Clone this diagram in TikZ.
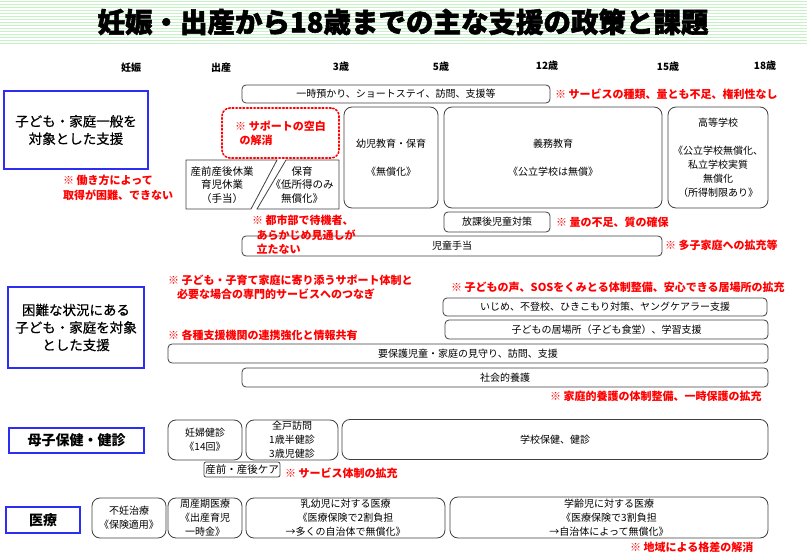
\documentclass[tikz,border=0pt]{standalone}
\usepackage{fontspec}
\setmainfont{Noto Sans CJK JP}
\newfontfamily\titlefont[FakeBold=2]{Noto Sans CJK JP}
\newfontfamily\labelfont[FakeBold=0.6]{Noto Sans CJK JP}
\usepackage{xcolor}
\definecolor{stripegreen}{HTML}{C6F3C6}
\definecolor{boxgray}{HTML}{404040}
\definecolor{groupblue}{HTML}{2E2EF2}
\definecolor{notered}{HTML}{FF0000}
\tikzset{
  box/.style={draw=boxgray, line width=0.8pt, fill=white, rounded corners=4pt, align=center, inner sep=0pt, font=\fontsize{10}{14}\selectfont},
  bigbox/.style={box, rounded corners=8pt},
  group/.style={draw=groupblue, line width=2.2pt, fill=white, align=center, inner sep=0pt, font=\labelfont\fontsize{13.5}{17.5}\selectfont},
  boldgroup/.style={group, font=\bfseries\fontsize{14}{17}\selectfont},
  note/.style={text=notered, anchor=west, align=left, inner sep=0pt, font=\bfseries\fontsize{11}{14.5}\selectfont},
  gapbox/.style={draw=notered, dotted, line width=1.6pt, line cap=round, rounded corners=8pt, text=notered, align=left, inner sep=0pt, font=\bfseries\fontsize{11}{14}\selectfont},
  slant/.style={draw=boxgray, line width=0.8pt, fill=white},
  slanttext/.style={align=center, inner sep=0pt, font=\fontsize{10.5}{13.5}\selectfont},
  agelabel/.style={font=\bfseries\fontsize{10}{12}\selectfont},
  stripe/.style={draw=stripegreen, line width=1.4pt}
}

\begin{document}
\begin{tikzpicture}[x=1pt, y=-1pt]
  \useasboundingbox (0,0) rectangle (807,559);
  \foreach \y in {1.5,4.5,...,45} \draw[stripe] (0,\y) -- (807,\y);
  \node[font=\titlefont\bfseries\fontsize{27.5}{30}\selectfont] (title) at (403,22) {妊娠・出産から18歳までの主な支援の政策と課題};

  \foreach \x/\y/\t/\n in {131/68/妊娠/pregnancy, 221/68/出産/birth, 341/67/3歳/age3, 441/67/5歳/age5, 547/66/12歳/age12, 668/67/15歳/age15, 765/66/18歳/age18}
    \node[agelabel] (\n) at (\x,\y) {\t};

  % general support
  \node[group, minimum width=144pt, minimum height=78pt] (general) at (76,130) {子ども・家庭一般を\\対象とした支援};
  \node[box, minimum width=308pt, minimum height=18pt] (temp) at (396,94) {一時預かり、ショートステイ、訪問、支援等};
  \node[note] (tempnote) at (555,94) {※ サービスの種類、量とも不足、権利性なし};
  \node[gapbox, minimum width=117pt, minimum height=50pt] (gap) at (280.5,133) {※ サポートの空白\\\hspace{0.4em}の解消};
  \node[bigbox, minimum width=94pt, minimum height=101pt] (preschool) at (391,157.5) {幼児教育・保育\\[14pt]《無償化》};
  \node[bigbox, minimum width=218pt, minimum height=101pt] (compulsory) at (553,157.5) {義務教育\\[14pt]《公立学校は無償》};
  \node[bigbox, minimum width=100pt, minimum height=101pt] (highschool) at (718,157.5) {高等学校\\[14pt]《公立学校無償化、\\私立学校実質\\無償化\\（所得制限あり》};
  \draw[slant] (186,160) -- (277,160) -- (251,209) -- (186,209) -- cycle;
  \draw[slant] (286,160) -- (339,160) -- (339,209) -- (257,209) -- cycle;
  \node[slanttext] (leave) at (222,185) {産前産後休業\\育児休業\\（手当）};
  \node[slanttext] (nursery) at (302,185) {保育\\《低所得のみ\\無償化》};
  \node[note] (leavenote) at (63,188) {※ 働き方によって\\取得が困難、できない};
  \node[box, minimum width=106pt, minimum height=20pt] (afterschool) at (497,222) {放課後児童対策};
  \node[note] (afternote) at (556,222) {※ 量の不足、質の確保};
  \node[box, minimum width=420pt, minimum height=20pt] (allowance) at (452,246) {児童手当};
  \node[note] (allownote) at (665,245) {※ 多子家庭への拡充等};
  \node[note] (waitnote) at (252,235) {※ 都市部で待機者、\\\hspace{0.4em}あらかじめ見通しが\\\hspace{0.4em}立たない};

  % difficult situations
  \node[group, minimum width=136pt, minimum height=81pt] (difficult) at (76,327.5) {困難な状況にある\\子ども・家庭を対象\\とした支援};
  \node[note] (closenote) at (168,287) {※ 子ども・子育て家庭に寄り添うサポート体制と\\\hspace{0.8em}必要な場合の専門的サービスへのつなぎ};
  \node[note] (sosnote) at (451,287) {※ 子どもの声、SOSをくみとる体制整備、安心できる居場所の拡充};
  \node[box, minimum width=324pt, minimum height=18pt] (bullying) at (605,307) {いじめ、不登校、ひきこもり対策、ヤングケアラー支援};
  \node[box, minimum width=323pt, minimum height=19pt] (place) at (606.5,329.5) {子どもの居場所（子ども食堂）、学習支援};
  \node[note] (linknote) at (168,335) {※ 各種支援機関の連携強化と情報共有};
  \node[box, minimum width=600pt, minimum height=19pt] (watch) at (468,353.5) {要保護児童・家庭の見守り、訪問、支援};
  \node[box, minimum width=526pt, minimum height=19pt] (care) at (505,377.5) {社会的養護};
  \node[note] (carenote) at (550,396) {※ 家庭的養護の体制整備、一時保護の拡充};

  % maternal and child health
  \node[boldgroup, minimum width=135pt, minimum height=25pt] (health) at (76.5,440.5) {母子保健・健診};
  \node[bigbox, minimum width=74pt, minimum height=40pt] (prenatal) at (205,440) {妊婦健診\\《14回》};
  \node[bigbox, minimum width=92pt, minimum height=40pt] (visit) at (292,440) {全戸訪問\\1歳半健診\\3歳児健診};
  \node[bigbox, minimum width=426pt, minimum height=40pt] (school) at (555,439.5) {学校保健、健診};
  \node[box, rounded corners=2pt, minimum width=76pt, minimum height=15pt, font=\fontsize{10.5}{12}\selectfont] (postnatal) at (242,469.5) {産前・産後ケア};
  \node[note] (healthnote) at (285,473) {※ サービス体制の拡充};

  % medical care
  \node[boldgroup, minimum width=74pt, minimum height=26pt] (medical) at (43,520) {医療};
  \node[bigbox, minimum width=74pt, minimum height=40pt] (fertility) at (129,518) {不妊治療\\《保険適用》};
  \node[bigbox, minimum width=74pt, minimum height=40pt] (perinatal) at (205,518) {周産期医療\\《出産育児\\一時金》};
  \node[bigbox, minimum width=199pt, minimum height=40pt] (infant) at (345.5,518) {乳幼児に対する医療\\《医療保険で2割負担\\→多くの自治体で無償化》};
  \node[bigbox, minimum width=318pt, minimum height=41pt] (pupil) at (609,517.5) {学齢児に対する医療\\《医療保険で3割負担\\→自治体によって無償化》};
  \node[note] (regionnote) at (630,547) {※ 地域による格差の解消};
\end{tikzpicture}
\end{document}
